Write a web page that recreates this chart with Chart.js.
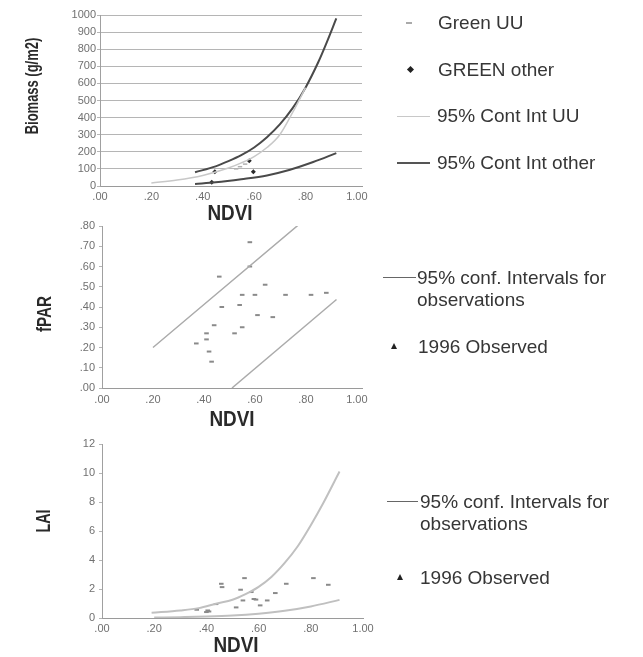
<!DOCTYPE html>
<html>
<head>
<meta charset="utf-8">
<script src="https://cdn.jsdelivr.net/npm/chart.js@4.4.1/dist/chart.umd.min.js"></script>
<style>
  html, body { margin:0; padding:0; background:#fff; }
  body { width:643px; height:657px; position:relative; overflow:hidden; font-family:"Liberation Sans", Arial, sans-serif; }
  canvas.c { position:absolute; left:0; top:0; }
  .lg { position:absolute; font-size:19px; color:#363636; line-height:22px; white-space:nowrap; }
  .ln { position:absolute; height:0; }
  .mk { position:absolute; }
  .tri { position:absolute; width:0; height:0; border-left:3px solid transparent; border-right:3px solid transparent; border-bottom:6px solid #222; }
  .ttl { position:absolute; font-family:"Liberation Sans", Arial, sans-serif; font-weight:bold; color:#2a2a2a; white-space:nowrap; line-height:1; }
</style>
</head>
<body>
<canvas class="c" id="c1" width="643" height="657"></canvas>
<canvas class="c" id="c2" width="643" height="657"></canvas>
<canvas class="c" id="c3" width="643" height="657"></canvas>

<!-- axis titles -->
<div class="ttl" style="left:32px;top:86px;font-size:18px;transform:translate(-50%,-50%) rotate(-90deg) scaleX(0.72);">Biomass (g/m2)</div>
<div class="ttl" style="left:44px;top:314px;font-size:20px;transform:translate(-50%,-50%) rotate(-90deg) scaleX(0.76);">fPAR</div>
<div class="ttl" style="left:43px;top:521px;font-size:20px;transform:translate(-50%,-50%) rotate(-90deg) scaleX(0.72);">LAI</div>
<div class="ttl" style="left:230px;top:213px;font-size:22px;transform:translate(-50%,-50%) scaleX(0.86);">NDVI</div>
<div class="ttl" style="left:232px;top:419px;font-size:22px;transform:translate(-50%,-50%) scaleX(0.86);">NDVI</div>
<div class="ttl" style="left:236px;top:645px;font-size:22px;transform:translate(-50%,-50%) scaleX(0.86);">NDVI</div>

<!-- legend panel 1 -->
<div class="mk" style="left:406px;top:22px;width:6px;height:2px;background:#aaa;"></div>
<div class="lg" style="left:438px;top:12px;">Green UU</div>
<div class="mk" style="left:408px;top:67px;width:5px;height:5px;background:#222;transform:rotate(45deg);"></div>
<div class="lg" style="left:438px;top:59px;">GREEN other</div>
<div class="ln" style="left:397px;top:116px;width:33px;border-top:1px solid #c8c8c8;"></div>
<div class="lg" style="left:437px;top:105px;">95% Cont Int UU</div>
<div class="ln" style="left:397px;top:162px;width:33px;border-top:2px solid #555;"></div>
<div class="lg" style="left:437px;top:152px;">95% Cont Int other</div>

<!-- legend panel 2 -->
<div class="ln" style="left:383px;top:277px;width:33px;border-top:1.5px solid #666;"></div>
<div class="lg" style="left:417px;top:267px;">95% conf. Intervals for<br>observations</div>
<div class="tri" style="left:391px;top:343px;"></div>
<div class="lg" style="left:418px;top:336px;">1996 Observed</div>

<!-- legend panel 3 -->
<div class="ln" style="left:387px;top:501px;width:31px;border-top:1.5px solid #666;"></div>
<div class="lg" style="left:420px;top:491px;">95% conf. Intervals for<br>observations</div>
<div class="tri" style="left:397px;top:574px;"></div>
<div class="lg" style="left:420px;top:567px;">1996 Observed</div>

<script>
// ---------- DATA ----------
// Panel 1: Biomass vs NDVI
const bioOtherUpperX = [0.37, 0.45, 0.50, 0.55, 0.60, 0.65, 0.70, 0.75, 0.80, 0.85, 0.88, 0.92];
const bioOtherUpperY = [80, 115, 145, 180, 225, 285, 360, 455, 575, 725, 830, 980];
const bioOtherLowerX = [0.37, 0.45, 0.55, 0.65, 0.74, 0.83, 0.92];
const bioOtherLowerY = [12, 22, 40, 62, 95, 140, 192];
const bioUUUpperX = [0.20, 0.30, 0.40, 0.50, 0.55, 0.60, 0.65, 0.70, 0.75, 0.80];
const bioUUUpperY = [18, 35, 62, 105, 135, 172, 225, 300, 430, 575];
const greenOtherX = [0.435, 0.447, 0.581, 0.597];
const greenOtherY = [22, 84, 148, 84];
const greenUUX = [0.53, 0.545, 0.565];
const greenUUY = [100, 113, 128];
const bioYTicks = [0, 100, 200, 300, 400, 500, 600, 700, 800, 900, 1000];

// Panel 2: fPAR vs NDVI
const fparUpperX = [0.20, 0.775];
const fparUpperY = [0.20, 0.81];
const fparLowerX = [0.51, 0.92];
const fparLowerY = [0.0, 0.437];
const fparObsX = [0.58, 0.58, 0.46, 0.64, 0.55, 0.60, 0.72, 0.82, 0.88, 0.54, 0.47, 0.61, 0.67, 0.44, 0.55, 0.52, 0.41, 0.41, 0.37, 0.42, 0.43];
const fparObsY = [0.72, 0.60, 0.55, 0.51, 0.46, 0.46, 0.46, 0.46, 0.47, 0.41, 0.40, 0.36, 0.35, 0.31, 0.30, 0.27, 0.27, 0.24, 0.22, 0.18, 0.13];
const fparYTicks = [0, 0.1, 0.2, 0.3, 0.4, 0.5, 0.6, 0.7, 0.8];

// Panel 3: LAI vs NDVI
const laiUpperX = [0.19, 0.30, 0.37, 0.44, 0.50, 0.55, 0.60, 0.65, 0.70, 0.75, 0.80, 0.85, 0.91];
const laiUpperY = [0.36, 0.52, 0.68, 1.0, 1.26, 1.65, 2.15, 2.85, 3.8, 4.95, 6.4, 8.0, 10.1];
const laiLowerX = [0.20, 0.30, 0.40, 0.50, 0.60, 0.70, 0.80, 0.91];
const laiLowerY = [0.03, 0.06, 0.10, 0.17, 0.30, 0.50, 0.80, 1.25];
const laiObsX = [0.546, 0.457, 0.46, 0.706, 0.81, 0.867, 0.531, 0.572, 0.664, 0.54, 0.582, 0.59, 0.633, 0.606, 0.514, 0.437, 0.363, 0.405, 0.41, 0.40];
const laiObsY = [2.75, 2.36, 2.13, 2.36, 2.75, 2.29, 1.95, 1.79, 1.72, 1.21, 1.31, 1.27, 1.21, 0.87, 0.73, 0.96, 0.57, 0.52, 0.45, 0.41];
const laiYTicks = [0, 2, 4, 6, 8, 10, 12];

const ndviTicks = [0, 0.2, 0.4, 0.6, 0.8, 1.0];

// ---------- HELPERS ----------
const pts = (xs, ys) => xs.map((x, i) => ({x: x, y: ys[i]}));
const tickFont = {family: "'Liberation Sans', Arial, sans-serif", size: 11};
const fmtDec = v => { const s = Number(v).toFixed(2); return s.startsWith('0') ? s.slice(1) : s; };

function lineDS(xs, ys, color, width) {
  return {type: 'scatter', data: pts(xs, ys), showLine: true, borderColor: color, borderWidth: width,
          pointRadius: 0, fill: false, cubicInterpolationMode: 'monotone'};
}
function ptDS(xs, ys, color, style, r, bw) {
  return {type: 'scatter', data: pts(xs, ys), showLine: false, pointStyle: style, pointRadius: r,
          backgroundColor: color, borderColor: color, borderWidth: bw || 0};
}

function makeChart(id, cfg) {
  return new Chart(document.getElementById(id), {
    type: 'scatter',
    data: {datasets: cfg.datasets},
    options: {
      responsive: false, animation: false, devicePixelRatio: 1,
      layout: {padding: cfg.padding},
      plugins: {legend: {display: false}, tooltip: {enabled: false}},
      scales: {
        x: {
          type: 'linear', min: 0, max: cfg.xmax,
          afterFit: s => { s.height = cfg.xh; },
          afterBuildTicks: s => { s.ticks = ndviTicks.map(v => ({value: v})); },
          ticks: {font: tickFont, color: '#707070', padding: cfg.xpad, maxRotation: 0, autoSkip: false,
                  callback: v => fmtDec(v)},
          grid: {display: false, drawTicks: false},
          border: {display: true, color: '#9a9a9a', width: 1},
          title: {display: false}
        },
        y: {
          type: 'linear', min: cfg.ymin, max: cfg.ymax,
          afterFit: s => { s.width = cfg.yw; },
          afterBuildTicks: s => { s.ticks = cfg.yticks.map(v => ({value: v})); },
          ticks: {font: tickFont, color: '#707070', padding: cfg.ypad, autoSkip: false, callback: cfg.yfmt},
          grid: cfg.grid,
          border: {display: true, color: '#a0a0a0', width: 1},
          title: {display: false}
        }
      }
    }
  });
}

// Panel 1
makeChart('c1', {
  datasets: [
    lineDS(bioUUUpperX, bioUUUpperY, '#c8c8c8', 1.5),
    lineDS(bioOtherUpperX, bioOtherUpperY, '#4a4a4a', 2),
    lineDS(bioOtherLowerX, bioOtherLowerY, '#4a4a4a', 2),
    ptDS(greenUUX, greenUUY, '#b0b0b0', 'line', 2.2, 1.5),
    ptDS(greenOtherX, greenOtherY, '#2a2a2a', 'rectRot', 2.5)
  ],
  padding: {left: 0, top: 15, right: 281, bottom: 437},
  xmax: 1.02, xh: 34, xpad: 4,
  ymin: 0, ymax: 1000, yw: 100, yticks: bioYTicks, yfmt: v => String(v), ypad: 1,
  grid: {display: true, color: '#b5b5b5', lineWidth: 1, drawOnChartArea: true, drawTicks: true, tickLength: 3}
});

// Panel 2
makeChart('c2', {
  datasets: [
    lineDS(fparUpperX, fparUpperY, '#ababab', 1.5),
    lineDS(fparLowerX, fparLowerY, '#ababab', 1.5),
    ptDS(fparObsX, fparObsY, '#8a8a8a', 'line', 2.3, 2)
  ],
  padding: {left: 0, top: 226, right: 281, bottom: 225},
  xmax: 1.02, xh: 44, xpad: 5,
  ymin: 0, ymax: 0.8, yw: 102, yticks: fparYTicks, yfmt: v => fmtDec(v), ypad: 4,
  grid: {display: true, color: '#b5b5b5', drawOnChartArea: false, drawTicks: true, tickLength: 3}
});

// Panel 3
makeChart('c3', {
  datasets: [
    lineDS(laiUpperX, laiUpperY, '#c0c0c0', 2),
    lineDS(laiLowerX, laiLowerY, '#c0c0c0', 2),
    ptDS(laiObsX, laiObsY, '#8a8a8a', 'line', 2.3, 2)
  ],
  padding: {left: 0, top: 444, right: 280, bottom: 1},
  xmax: 1.0, xh: 38, xpad: 4,
  ymin: 0, ymax: 12, yw: 102, yticks: laiYTicks, yfmt: v => String(v), ypad: 4,
  grid: {display: true, color: '#b5b5b5', drawOnChartArea: false, drawTicks: true, tickLength: 3}
});
</script>
</body>
</html>
